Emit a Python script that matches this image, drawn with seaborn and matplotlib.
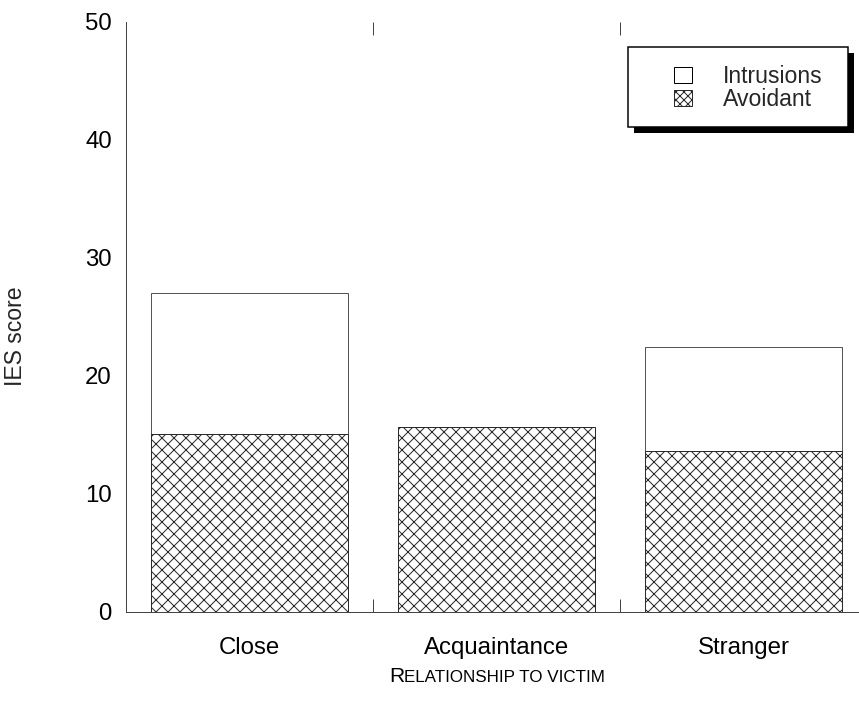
import matplotlib
matplotlib.use("Agg")
import matplotlib.pyplot as plt
import seaborn as sns
from matplotlib.patches import Patch, Rectangle
from matplotlib.ticker import MultipleLocator, FixedLocator
from matplotlib.offsetbox import TextArea, HPacker, AnchoredOffsetbox
from matplotlib.transforms import IdentityTransform

categories = ["Close", "Acquaintance", "Stranger"]
intrusions = [27.0, 15.3, 22.45]
avoidant = [15.05, 15.7, 13.65]
series_labels = ["Intrusions", "Avoidant"]
y_label = "IES score"
x_label_first = "R"
x_label_rest = "ELATIONSHIP TO VICTIM"

sns.set_style("white")
plt.rcParams["font.family"] = ["Liberation Sans", "DejaVu Sans"]
plt.rcParams["hatch.linewidth"] = 1.0

DPI = 72
FS = 24
fig = plt.figure(figsize=(859 / DPI, 706 / DPI), dpi=DPI)
ax = fig.add_axes([126 / 859, (706 - 612) / 706, (867 - 126) / 859, (612 - 22) / 706])

sns.barplot(x=categories, y=intrusions, color="white", edgecolor="#555555",
            linewidth=1.0, width=0.8, saturation=1, ax=ax)
sns.barplot(x=categories, y=avoidant, color="white", edgecolor="#2a2a2a",
            linewidth=1.0, width=0.8, saturation=1, hatch="xx", ax=ax)

ax.set_xlim(-0.5, 2.5)
ax.set_ylim(0, 50)

for s in ["top", "right"]:
    ax.spines[s].set_visible(False)
for s in ["left", "bottom"]:
    ax.spines[s].set_color("#444444")
    ax.spines[s].set_linewidth(1.0)

ax.yaxis.set_major_locator(MultipleLocator(10))
ax.yaxis.set_minor_locator(MultipleLocator(2))
ax.tick_params(axis="y", which="major", direction="in", length=12, width=1,
               color="#444444", labelsize=FS, pad=14, labelcolor="black")
ax.tick_params(axis="y", which="minor", direction="in", length=6, width=1,
               color="#444444")

ax.xaxis.set_minor_locator(FixedLocator([0.5, 1.5]))
ax.tick_params(axis="x", which="major", length=0, labelsize=FS, pad=25,
               labelcolor="black")
ax.tick_params(axis="x", which="minor", direction="in", length=13, width=1,
               color="#444444", top=True, bottom=True)

ax.set_xlabel("")
ax.set_ylabel(y_label, fontsize=FS - 1)
ax.yaxis.set_label_coords(-0.134, 0.468)

# small-caps style x label
r = TextArea(x_label_first, textprops=dict(fontsize=21, color="black"))
rest = TextArea(x_label_rest, textprops=dict(fontsize=17, color="black"))
pack = HPacker(children=[r, rest], align="baseline", pad=0, sep=0)
ab = AnchoredOffsetbox(loc="center", child=pack, frameon=False,
                       bbox_to_anchor=(497 / 859, (706 - 676) / 706),
                       bbox_transform=fig.transFigure, borderpad=0, pad=0)
fig.add_artist(ab)

# legend frame with drop shadow (pixel coords)
H = 706
box_x0, box_x1, box_y0, box_y1 = 628, 848, 47, 127
shadow = Rectangle((box_x0 + 6, H - box_y1 - 6), box_x1 - box_x0, box_y1 - box_y0,
                   facecolor="black", edgecolor="none",
                   transform=IdentityTransform(), zorder=8, clip_on=False)
frame = Rectangle((box_x0, H - box_y1), box_x1 - box_x0, box_y1 - box_y0,
                  facecolor="white", edgecolor="black", linewidth=1.5,
                  transform=IdentityTransform(), zorder=9, clip_on=False)
ax.add_artist(shadow)
ax.add_artist(frame)

handles = [Patch(facecolor="white", edgecolor="black", linewidth=1.0),
           Patch(facecolor="white", edgecolor="#2a2a2a", linewidth=1.0, hatch="xxx")]
leg = ax.legend(handles, series_labels, loc="center",
                bbox_to_anchor=((748 - 126) / 741, (612 - 88) / 590),
                fontsize=FS - 1, frameon=False,
                handlelength=0.78, handleheight=0.75, handletextpad=1.35,
                labelspacing=0.0, borderpad=0, borderaxespad=0)
leg.set_zorder(10)

fig.savefig("out.png", dpi=DPI)
